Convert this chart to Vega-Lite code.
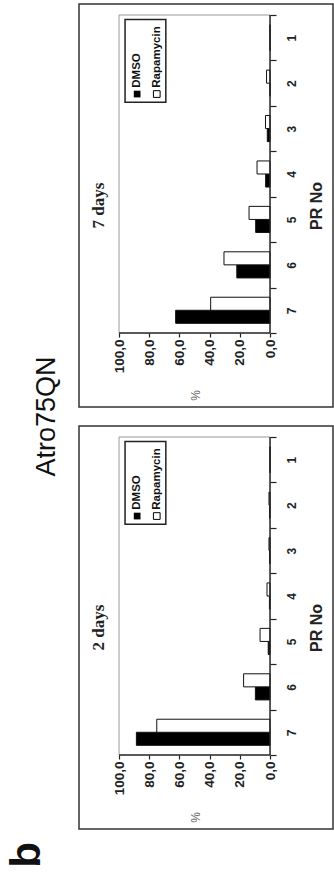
{
  "$schema": "https://vega.github.io/schema/vega-lite/v6.json",
  "background": "white",
  "padding": {"left": 6, "top": 3, "right": 0, "bottom": 50},
  "title": {"text": "b", "orient": "left", "anchor": "start", "fontSize": 42, "fontWeight": "bold", "font": "Liberation Sans", "color": "#111", "offset": -16, "dx": -38},
  "datasets": {
    "d7": [
      {"pr": "1", "treatment": "DMSO", "pct": 0},
      {"pr": "1", "treatment": "Rapamycin", "pct": 0},
      {"pr": "2", "treatment": "DMSO", "pct": 0},
      {"pr": "2", "treatment": "Rapamycin", "pct": 2.3},
      {"pr": "3", "treatment": "DMSO", "pct": 1.8},
      {"pr": "3", "treatment": "Rapamycin", "pct": 3.0},
      {"pr": "4", "treatment": "DMSO", "pct": 2.9},
      {"pr": "4", "treatment": "Rapamycin", "pct": 8.6},
      {"pr": "5", "treatment": "DMSO", "pct": 9.5},
      {"pr": "5", "treatment": "Rapamycin", "pct": 13.9},
      {"pr": "6", "treatment": "DMSO", "pct": 22.0},
      {"pr": "6", "treatment": "Rapamycin", "pct": 30.5},
      {"pr": "7", "treatment": "DMSO", "pct": 62.5},
      {"pr": "7", "treatment": "Rapamycin", "pct": 39.3}
    ],
    "d2": [
      {"pr": "1", "treatment": "DMSO", "pct": 0},
      {"pr": "1", "treatment": "Rapamycin", "pct": 0},
      {"pr": "2", "treatment": "DMSO", "pct": 0.3},
      {"pr": "2", "treatment": "Rapamycin", "pct": 0.7},
      {"pr": "3", "treatment": "DMSO", "pct": 0.3},
      {"pr": "3", "treatment": "Rapamycin", "pct": 0.7},
      {"pr": "4", "treatment": "DMSO", "pct": 0.4},
      {"pr": "4", "treatment": "Rapamycin", "pct": 2.0},
      {"pr": "5", "treatment": "DMSO", "pct": 1.2},
      {"pr": "5", "treatment": "Rapamycin", "pct": 6.6},
      {"pr": "6", "treatment": "DMSO", "pct": 9.7},
      {"pr": "6", "treatment": "Rapamycin", "pct": 17.5},
      {"pr": "7", "treatment": "DMSO", "pct": 88.5},
      {"pr": "7", "treatment": "Rapamycin", "pct": 75.0}
    ]
  },
  "vconcat": [
    {
      "title": {"text": "Atro75QN", "orient": "left", "anchor": "middle", "fontSize": 27, "fontWeight": "normal", "font": "Liberation Sans", "color": "#111", "offset": 17},
      "spacing": 17,
      "resolve": {"scale": {"yOffset": "independent", "x": "independent", "y": "independent"}},
      "vconcat": [
        {
          "width": 254,
          "height": 403,
          "title": {"text": "7 days", "orient": "left", "anchor": "middle", "offset": -29, "font": "Liberation Serif", "fontSize": 17, "fontWeight": "bold", "color": "#222"},
          "layer": [
            {
              "data": {"name": "d7"},
              "mark": {"type": "bar", "stroke": "#111", "strokeWidth": 1},
              "encoding": {
                "y": {"field": "pr", "type": "nominal", "scale": {"domain": ["1", "2", "3", "4", "5", "6", "7"], "paddingInner": 0, "paddingOuter": 0.9355, "align": 0.1294},
                  "axis": {"orient": "right", "offset": -63, "domain": false, "tickBand": "extent", "tickSize": 6, "tickWidth": 1.2, "tickColor": "#222", "labelAngle": -90, "labelAlign": "center", "labelBaseline": "top", "labelFontSize": 12, "labelFontWeight": "bold", "labelPadding": 10, "labelColor": "#222", "labelFont": "Liberation Sans", "title": "PR No", "titleAngle": -90, "titleFontSize": 16, "titleFontWeight": "bold", "titleFont": "Liberation Sans", "titleColor": "#222", "titleX": 46, "titleAlign": "center", "titleBaseline": "middle", "grid": false}},
                "yOffset": {"field": "treatment", "type": "nominal", "sort": ["Rapamycin", "DMSO"], "scale": {"paddingInner": 0, "paddingOuter": 0.74}},
                "x": {"field": "pct", "type": "quantitative", "scale": {"domain": [-41.7, 126.5], "reverse": true, "nice": false, "zero": false},
                  "axis": {"orient": "bottom", "offset": -74, "values": [0, 20, 40, 60, 80, 100], "labelExpr": "replace(format(datum.value, '.1f'), '.', ',')", "labelAngle": -90, "labelAlign": "right", "labelBaseline": "middle", "labelFontSize": 13.5, "labelFontWeight": "bold", "labelPadding": 2, "labelColor": "#222", "labelFont": "Liberation Sans", "labelOverlap": false, "labelFlush": false, "tickSize": 4, "tickWidth": 1.2, "tickColor": "#222", "domain": false, "grid": false, "title": "%", "titleAngle": -90, "titleFontSize": 12, "titleFontWeight": "normal", "titleFont": "Liberation Sans", "titleColor": "#666", "titleX": 116, "titleY": 62, "titleAlign": "center", "titleBaseline": "middle"}},
                "x2": {"datum": 0},
                "fill": {"field": "treatment", "type": "nominal", "scale": {"domain": ["DMSO", "Rapamycin"], "range": ["#000000", "#ffffff"]}, "legend": null}
              }
            },
            {
              "data": {"values": [{}]},
              "mark": {"type": "rule", "color": "#999999", "strokeWidth": 1},
              "encoding": {
                "x": {"datum": 100, "type": "quantitative"},
                "y": {"datum": "1", "type": "nominal", "bandPosition": 0},
                "y2": {"datum": "7", "bandPosition": 1}
              }
            },
            {
              "data": {"values": [{}]},
              "mark": {"type": "rule", "color": "#999999", "strokeWidth": 1},
              "encoding": {
                "y": {"datum": "1", "type": "nominal", "bandPosition": 0},
                "x": {"datum": 0, "type": "quantitative"},
                "x2": {"datum": 100}
              }
            },
            {
              "data": {"values": [{}]},
              "mark": {"type": "rule", "color": "#222222", "strokeWidth": 1.5},
              "encoding": {
                "x": {"datum": 0, "type": "quantitative"},
                "y": {"datum": "1", "type": "nominal", "bandPosition": 0},
                "y2": {"datum": "7", "bandPosition": 1}
              }
            },
            {
              "data": {"values": [{}]},
              "mark": {"type": "rule", "color": "#222222", "strokeWidth": 1.5},
              "encoding": {
                "y": {"datum": "7", "type": "nominal", "bandPosition": 1},
                "x": {"datum": 0, "type": "quantitative"},
                "x2": {"datum": 100}
              }
            },
            {
              "data": {"values": [{}]},
              "mark": {"type": "rect", "fill": "#ffffff", "stroke": "#222222", "strokeWidth": 1.5},
              "encoding": {
                "x": {"datum": 96, "type": "quantitative"},
                "x2": {"datum": 69},
                "y": {"datum": "1", "type": "nominal", "bandPosition": 0.1},
                "y2": {"datum": "2", "bandPosition": 0.92}
              }
            },
            {
              "data": {"values": [{}]},
              "mark": {"type": "square", "size": 45, "color": "#000000", "opacity": 1},
              "encoding": {
                "x": {"datum": 88, "type": "quantitative"},
                "y": {"datum": "2", "type": "nominal", "bandPosition": 0.74}
              }
            },
            {
              "data": {"values": [{}]},
              "mark": {"type": "square", "size": 45, "fill": "#ffffff", "stroke": "#000000", "strokeWidth": 1, "opacity": 1},
              "encoding": {
                "x": {"datum": 75, "type": "quantitative"},
                "y": {"datum": "2", "type": "nominal", "bandPosition": 0.74}
              }
            },
            {
              "data": {"values": [{"label": "DMSO"}]},
              "mark": {"type": "text", "angle": 270, "align": "left", "baseline": "middle", "fontSize": 11.5, "fontWeight": "bold", "font": "Liberation Sans", "color": "#111"},
              "encoding": {
                "text": {"field": "label"},
                "x": {"datum": 88, "type": "quantitative"},
                "y": {"datum": "2", "type": "nominal", "bandPosition": 0.6}
              }
            },
            {
              "data": {"values": [{"label": "Rapamycin"}]},
              "mark": {"type": "text", "angle": 270, "align": "left", "baseline": "middle", "fontSize": 11.5, "fontWeight": "bold", "font": "Liberation Sans", "color": "#111"},
              "encoding": {
                "text": {"field": "label"},
                "x": {"datum": 75, "type": "quantitative"},
                "y": {"datum": "2", "type": "nominal", "bandPosition": 0.6}
              }
            }
          ]
        },
        {
          "width": 254,
          "height": 403,
          "title": {"text": "2 days", "orient": "left", "anchor": "middle", "offset": -29, "font": "Liberation Serif", "fontSize": 17, "fontWeight": "bold", "color": "#222"},
          "layer": [
            {
              "data": {"name": "d2"},
              "mark": {"type": "bar", "stroke": "#111", "strokeWidth": 1},
              "encoding": {
                "y": {"field": "pr", "type": "nominal", "scale": {"domain": ["1", "2", "3", "4", "5", "6", "7"], "paddingInner": 0, "paddingOuter": 0.9355, "align": 0.1294},
                  "axis": {"orient": "right", "offset": -63, "domain": false, "tickBand": "extent", "tickSize": 6, "tickWidth": 1.2, "tickColor": "#222", "labelAngle": -90, "labelAlign": "center", "labelBaseline": "top", "labelFontSize": 12, "labelFontWeight": "bold", "labelPadding": 10, "labelColor": "#222", "labelFont": "Liberation Sans", "title": "PR No", "titleAngle": -90, "titleFontSize": 16, "titleFontWeight": "bold", "titleFont": "Liberation Sans", "titleColor": "#222", "titleX": 46, "titleAlign": "center", "titleBaseline": "middle", "grid": false}},
                "yOffset": {"field": "treatment", "type": "nominal", "sort": ["Rapamycin", "DMSO"], "scale": {"paddingInner": 0, "paddingOuter": 0.74}},
                "x": {"field": "pct", "type": "quantitative", "scale": {"domain": [-41.7, 126.5], "reverse": true, "nice": false, "zero": false},
                  "axis": {"orient": "bottom", "offset": -74, "values": [0, 20, 40, 60, 80, 100], "labelExpr": "replace(format(datum.value, '.1f'), '.', ',')", "labelAngle": -90, "labelAlign": "right", "labelBaseline": "middle", "labelFontSize": 13.5, "labelFontWeight": "bold", "labelPadding": 2, "labelColor": "#222", "labelFont": "Liberation Sans", "labelOverlap": false, "labelFlush": false, "tickSize": 4, "tickWidth": 1.2, "tickColor": "#222", "domain": false, "grid": false, "title": "%", "titleAngle": -90, "titleFontSize": 12, "titleFontWeight": "normal", "titleFont": "Liberation Sans", "titleColor": "#666", "titleX": 116, "titleY": 62, "titleAlign": "center", "titleBaseline": "middle"}},
                "x2": {"datum": 0},
                "fill": {"field": "treatment", "type": "nominal", "scale": {"domain": ["DMSO", "Rapamycin"], "range": ["#000000", "#ffffff"]}, "legend": null}
              }
            },
            {
              "data": {"values": [{}]},
              "mark": {"type": "rule", "color": "#999999", "strokeWidth": 1},
              "encoding": {
                "x": {"datum": 100, "type": "quantitative"},
                "y": {"datum": "1", "type": "nominal", "bandPosition": 0},
                "y2": {"datum": "7", "bandPosition": 1}
              }
            },
            {
              "data": {"values": [{}]},
              "mark": {"type": "rule", "color": "#999999", "strokeWidth": 1},
              "encoding": {
                "y": {"datum": "1", "type": "nominal", "bandPosition": 0},
                "x": {"datum": 0, "type": "quantitative"},
                "x2": {"datum": 100}
              }
            },
            {
              "data": {"values": [{}]},
              "mark": {"type": "rule", "color": "#222222", "strokeWidth": 1.5},
              "encoding": {
                "x": {"datum": 0, "type": "quantitative"},
                "y": {"datum": "1", "type": "nominal", "bandPosition": 0},
                "y2": {"datum": "7", "bandPosition": 1}
              }
            },
            {
              "data": {"values": [{}]},
              "mark": {"type": "rule", "color": "#222222", "strokeWidth": 1.5},
              "encoding": {
                "y": {"datum": "7", "type": "nominal", "bandPosition": 1},
                "x": {"datum": 0, "type": "quantitative"},
                "x2": {"datum": 100}
              }
            },
            {
              "data": {"values": [{}]},
              "mark": {"type": "rect", "fill": "#ffffff", "stroke": "#222222", "strokeWidth": 1.5},
              "encoding": {
                "x": {"datum": 96, "type": "quantitative"},
                "x2": {"datum": 69},
                "y": {"datum": "1", "type": "nominal", "bandPosition": 0.1},
                "y2": {"datum": "2", "bandPosition": 0.92}
              }
            },
            {
              "data": {"values": [{}]},
              "mark": {"type": "square", "size": 45, "color": "#000000", "opacity": 1},
              "encoding": {
                "x": {"datum": 88, "type": "quantitative"},
                "y": {"datum": "2", "type": "nominal", "bandPosition": 0.74}
              }
            },
            {
              "data": {"values": [{}]},
              "mark": {"type": "square", "size": 45, "fill": "#ffffff", "stroke": "#000000", "strokeWidth": 1, "opacity": 1},
              "encoding": {
                "x": {"datum": 75, "type": "quantitative"},
                "y": {"datum": "2", "type": "nominal", "bandPosition": 0.74}
              }
            },
            {
              "data": {"values": [{"label": "DMSO"}]},
              "mark": {"type": "text", "angle": 270, "align": "left", "baseline": "middle", "fontSize": 11.5, "fontWeight": "bold", "font": "Liberation Sans", "color": "#111"},
              "encoding": {
                "text": {"field": "label"},
                "x": {"datum": 88, "type": "quantitative"},
                "y": {"datum": "2", "type": "nominal", "bandPosition": 0.6}
              }
            },
            {
              "data": {"values": [{"label": "Rapamycin"}]},
              "mark": {"type": "text", "angle": 270, "align": "left", "baseline": "middle", "fontSize": 11.5, "fontWeight": "bold", "font": "Liberation Sans", "color": "#111"},
              "encoding": {
                "text": {"field": "label"},
                "x": {"datum": 75, "type": "quantitative"},
                "y": {"datum": "2", "type": "nominal", "bandPosition": 0.6}
              }
            }
          ]
        }
      ]
    }
  ],
  "config": {
    "view": {"stroke": "#333333", "strokeWidth": 1.5},
    "font": "Liberation Sans"
  }
}
